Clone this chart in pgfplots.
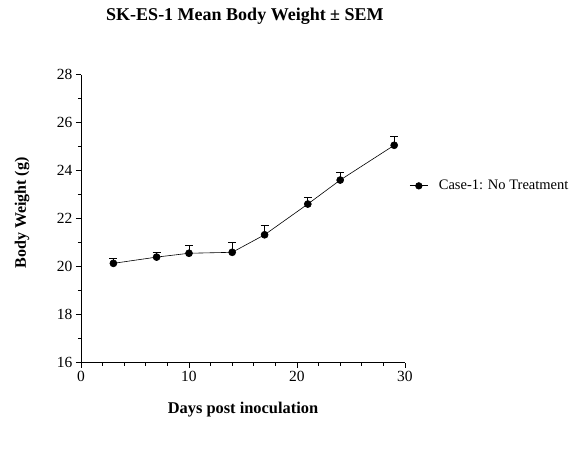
\documentclass[border=0pt]{standalone}
\usepackage{pgfplots}
\pgfplotsset{compat=1.18}
\usepackage{fontspec}
\setmainfont{Liberation Serif}
\begin{document}
\begin{tikzpicture}
\begin{axis}[
  at={(0pt,0pt)}, anchor=south west,
  scale only axis, width=324pt, height=288pt,
  xmin=0, xmax=30, ymin=16, ymax=28,
  xtick={0,10,20,30}, ytick={16,18,...,28},
  minor x tick num=4, minor y tick num=1,
  axis lines*=left,
  axis line style={line width=0.8pt},
  tick style={black, line width=0.8pt},
  tick align=outside,
  major tick length=5pt, minor tick length=3pt,
  /pgf/number format/assume math mode=true,
  ticklabel style={font=\fontsize{15.5}{17}\selectfont},
  title={SK-ES-1 Mean Body Weight ± SEM},
  title style={font=\bfseries\fontsize{18}{20}\selectfont, at={(axis description cs:0.506,1.1806)}, anchor=center},
  xlabel={Days post inoculation},
  xlabel style={font=\bfseries\fontsize{16.4}{18}\selectfont, at={(axis description cs:0.5,-0.163)}, anchor=center},
  ylabel={Body Weight (g)},
  ylabel style={font=\bfseries\fontsize{16}{18}\selectfont, at={(axis description cs:-0.182,0.52)}, anchor=center},
  legend style={draw=none, fill=none, at={(axis description cs:1.01,0.614)}, anchor=west, font=\fontsize{14.5}{16}\selectfont, inner sep=1pt},
  legend cell align=left,
  legend image code/.code={
    \path[draw=none, fill=none] (0pt,-3pt) rectangle (27pt,3pt);
    \draw[black, line width=0.8pt] (0pt,0pt) -- (18pt,0pt);
    \fill[black] (9pt,0pt) circle (3.3pt);
  },
]
\addplot+[black, line width=0.6pt, mark=*, mark size=3.5pt, mark options={fill=black, solid},
  error bars/.cd, y dir=plus, y explicit, error bar style={line width=0.8pt, black}, error mark options={rotate=90, mark size=4pt, line width=0.8pt, black}]
  table[x=x, y=y, y error=e] {
  x  y      e
  3  20.14  0.19
  7  20.40  0.21
  10 20.56  0.33
  14 20.60  0.40
  17 21.33  0.39
  21 22.61  0.28
  24 23.61  0.31
  29 25.06  0.39
  };
\addlegendentry{Case-1: No Treatment}
\end{axis}
\pgfresetboundingbox
\useasboundingbox (-81pt,-90.3pt) rectangle (500pt,362.7pt);
\end{tikzpicture}
\end{document}
